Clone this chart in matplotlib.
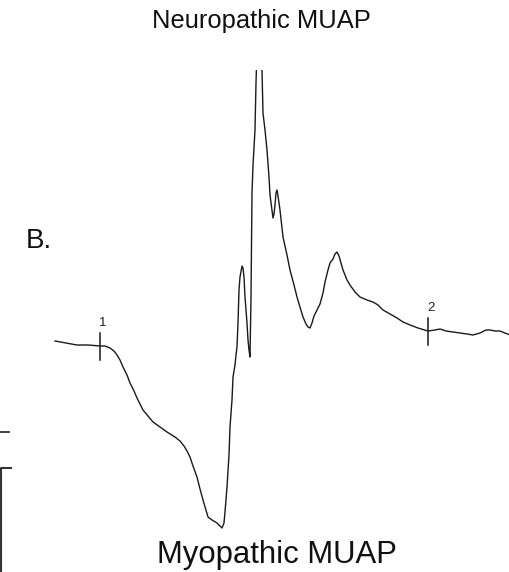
import numpy as np
import matplotlib
matplotlib.use("Agg")
import matplotlib.pyplot as plt

plt.rcParams['font.family'] = ['Liberation Sans', 'DejaVu Sans']

# Trazo del MUAP (muestra, amplitud relativa a la linea base)
muestra = np.array([55, 66, 77, 88, 100, 105, 110, 114, 117, 120, 123, 127, 130, 134, 137,
                    140, 143, 148, 153, 160, 167, 175, 180, 184, 187, 190, 193, 197, 200,
                    203, 206, 208, 212, 217, 220, 222, 224, 226, 227, 229, 230, 232, 233,
                    235, 236, 237, 238, 239, 240, 242, 243, 244, 245, 246, 247, 248, 249,
                    250, 251, 252, 253, 255, 256, 257, 259, 261, 262, 263, 265, 267, 269,
                    270, 272, 273, 274, 275, 276, 277, 278, 280, 282, 283, 287, 290, 294,
                    297, 300, 303, 306, 308, 310, 312, 314, 317, 320, 323, 325, 328, 330,
                    333, 335, 337, 339, 341, 343, 347, 350, 355, 360, 367, 373, 378, 383,
                    390, 397, 403, 410, 418, 428, 435, 440, 446, 453, 460, 467, 473, 480,
                    486, 490, 495, 500, 505, 510])
nivel = np.array([341, 343, 345, 345, 346, 346, 348, 351, 355, 360, 367, 375, 383, 391, 398,
                  404, 410, 416, 422, 427, 432, 437, 441, 446, 451, 457, 466, 477, 489,
                  500, 510, 517, 520, 523, 526, 528, 523, 500, 487, 455, 427, 400, 377,
                  365, 355, 347, 323, 290, 277, 266, 268, 277, 297, 310, 323, 340, 350,
                  357, 297, 193, 165, 130, 83, 50, 20, 50, 70, 113, 130, 150, 177,
                  195, 210, 218, 214, 205, 193, 190, 196, 210, 228, 237, 255, 270, 285,
                  297, 307, 317, 324, 327, 328, 323, 316, 310, 304, 293, 282, 270, 263,
                  259, 254, 252, 256, 263, 270, 280, 285, 292, 297, 300, 302, 305, 310,
                  314, 318, 322, 325, 328, 331, 330, 329, 331, 332, 333, 334, 335, 333,
                  330, 330, 331, 331, 333, 335])
base = 345
amplitud = base - nivel

cursores = [100, 428]
etiquetas_cursor = ['1', '2']

fig = plt.figure(figsize=(5.1, 5.72), dpi=100)

# eje de la señal (su borde superior recorta el pico)
ax = fig.add_axes([0, 0, 1, (572 - 70) / 572])
ax.plot(muestra, amplitud, color='#1a1a1a', lw=1.0)
for c, et in zip(cursores, etiquetas_cursor):
    a = np.interp(c, muestra, amplitud)
    ax.plot([c, c], [a - 13.5, a + 13.5], color='#1a1a1a', lw=1.1)
    ax.text(c + 3, a + 20, et, ha='center', va='baseline', fontsize=9.5, color='#222222')
ax.set_xlim(0, 510)
ax.set_ylim(base - 572, base - 70)
ax.axis('off')

# capa de textos en pixeles
ax2 = fig.add_axes([0, 0, 1, 1])
ax2.set_xlim(0, 510)
ax2.set_ylim(572, 0)
ax2.axis('off')
ax2.text(261, 28, 'Neuropathic MUAP', ha='center', va='baseline', fontsize=18.4, color='#111111')
ax2.text(277, 563, 'Myopathic MUAP', ha='center', va='baseline', fontsize=22.4, color='#111111')
ax2.text(26, 248, 'B.', ha='left', va='baseline', fontsize=20, color='#111111')

# restos del panel vecino a la izquierda
ax2.plot([0, 9], [432, 432], color='#333333', lw=1.3)
ax2.plot([11, 1, 1], [468, 468, 572], color='#333333', lw=1.5)

fig.savefig('out.png', dpi=100)
